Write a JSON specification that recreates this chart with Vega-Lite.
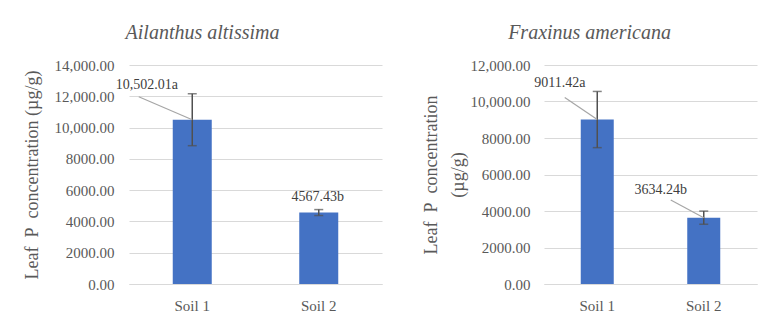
{
  "$schema": "https://vega.github.io/schema/vega-lite/v6.json",
  "background": "white",
  "padding": {"left": 23, "top": 23, "right": 5, "bottom": 5},
  "spacing": 40,
  "config": {
    "font": "Liberation Serif",
    "view": {"stroke": null},
    "style": {"guide-label": {"font": "Liberation Serif"}, "guide-title": {"font": "Liberation Serif"}, "group-title": {"font": "Liberation Serif"}},
    "axis": {
      "labelFont": "Liberation Serif",
      "titleFont": "Liberation Serif",
      "labelColor": "#595959",
      "titleColor": "#595959",
      "labelFontSize": 15,
      "titleFontSize": 18,
      "titleFontWeight": "normal",
      "ticks": false,
      "gridColor": "#D9D9D9",
      "domainColor": "#D9D9D9"
    },
    "title": {"font": "Liberation Serif", "fontStyle": "italic", "fontSize": 20, "fontWeight": "normal", "color": "#595959", "offset": 15, "frame": "bounds", "anchor": "middle"}
  },
  "datasets": {
    "d": [
      {"species": "Ailanthus altissima", "soil": "Soil 1", "value": 10502.01, "err": 1660, "label": "10,502.01a"},
      {"species": "Ailanthus altissima", "soil": "Soil 2", "value": 4567.43, "err": 190, "label": "4567.43b"},
      {"species": "Fraxinus americana", "soil": "Soil 1", "value": 9011.42, "err": 1540, "label": "9011.42a"},
      {"species": "Fraxinus americana", "soil": "Soil 2", "value": 3634.24, "err": 360, "label": "3634.24b"}
    ]
  },
  "hconcat": [
    {
      "width": 253,
      "height": 219,
      "title": {"text": "Ailanthus altissima", "font": "Liberation Serif", "fontStyle": "italic"},
      "data": {"name": "d"},
      "transform": [{"filter": "datum.species === 'Ailanthus altissima'"}],
      "encoding": {
        "x": {"field": "soil", "type": "nominal", "scale": {"paddingInner": 0, "paddingOuter": 0},
              "axis": {"title": null, "labelAngle": 0, "labelPadding": 14, "domain": true, "grid": false, "labelFont": "Liberation Serif"}},
        "y": {"field": "value", "type": "quantitative", "scale": {"domain": [0, 14000]},
              "axis": {"title": "Leaf\u00a0 P\u00a0 concentration (µg/g)", "values": [0, 2000, 4000, 6000, 8000, 10000, 12000, 14000],
                       "labelExpr": "datum.value >= 10000 ? format(datum.value, ',.2f') : format(datum.value, '.2f')",
                       "labelFont": "Liberation Serif", "titleFont": "Liberation Serif",
                       "labelPadding": 15, "titlePadding": 13, "domain": false, "grid": true}}
      },
      "layer": [
        {"mark": {"type": "bar", "size": 39, "color": "#4472C4"}},
        {"mark": {"type": "errorbar", "ticks": {"size": 9}, "color": "#505050", "thickness": 1.5},
         "encoding": {"yError": {"field": "err"}}},
        {"transform": [{"filter": "datum.soil === 'Soil 1'"}],
         "mark": {"type": "rule", "color": "#A6A6A6", "strokeWidth": 1.2, "x2Offset": -53.5, "y2Offset": -23},
         "encoding": {"x2": {"field": "soil"}, "y2": {"field": "value"}}},
        {"transform": [{"filter": "datum.soil === 'Soil 1'"}],
         "mark": {"type": "text", "dx": -45.5, "dy": -35, "fontSize": 14, "font": "Liberation Serif", "color": "#404040", "baseline": "middle"},
         "encoding": {"text": {"field": "label"}}},
        {"transform": [{"filter": "datum.soil === 'Soil 2'"}],
         "mark": {"type": "text", "dx": -1, "dy": -15.5, "fontSize": 14, "font": "Liberation Serif", "color": "#404040", "baseline": "middle"},
         "encoding": {"text": {"field": "label"}}}
      ]
    },
    {
      "width": 213,
      "height": 219,
      "title": {"text": "Fraxinus americana", "font": "Liberation Serif", "fontStyle": "italic"},
      "data": {"name": "d"},
      "transform": [{"filter": "datum.species === 'Fraxinus americana'"}],
      "encoding": {
        "x": {"field": "soil", "type": "nominal", "scale": {"paddingInner": 0, "paddingOuter": 0},
              "axis": {"title": null, "labelAngle": 0, "labelPadding": 14, "domain": true, "grid": false, "labelFont": "Liberation Serif"}},
        "y": {"field": "value", "type": "quantitative", "scale": {"domain": [0, 12000]},
              "axis": {"title": ["Leaf\u00a0 P\u00a0 concentration", "(µg/g)"], "titleLineHeight": 27, "values": [0, 2000, 4000, 6000, 8000, 10000, 12000],
                       "labelExpr": "datum.value >= 10000 ? format(datum.value, ',.2f') : format(datum.value, '.2f')",
                       "labelFont": "Liberation Serif", "titleFont": "Liberation Serif",
                       "labelPadding": 14, "titlePadding": 3, "domain": false, "grid": true}}
      },
      "layer": [
        {"mark": {"type": "bar", "size": 33, "color": "#4472C4"}},
        {"mark": {"type": "errorbar", "ticks": {"size": 9}, "color": "#505050", "thickness": 1.5},
         "encoding": {"yError": {"field": "err"}}},
        {"transform": [{"filter": "datum.soil === 'Soil 1'"}],
         "mark": {"type": "rule", "color": "#A6A6A6", "strokeWidth": 1.2, "x2Offset": -32.5, "y2Offset": -22},
         "encoding": {"x2": {"field": "soil"}, "y2": {"field": "value"}}},
        {"transform": [{"filter": "datum.soil === 'Soil 2'"}],
         "mark": {"type": "rule", "color": "#A6A6A6", "strokeWidth": 1.2, "x2Offset": -33, "y2Offset": -17.6},
         "encoding": {"x2": {"field": "soil"}, "y2": {"field": "value"}}},
        {"transform": [{"filter": "datum.soil === 'Soil 1'"}],
         "mark": {"type": "text", "dx": -37.5, "dy": -36.4, "fontSize": 14, "font": "Liberation Serif", "color": "#404040", "baseline": "middle"},
         "encoding": {"text": {"field": "label"}}},
        {"transform": [{"filter": "datum.soil === 'Soil 2'"}],
         "mark": {"type": "text", "dx": -43, "dy": -27.6, "fontSize": 14, "font": "Liberation Serif", "color": "#404040", "baseline": "middle"},
         "encoding": {"text": {"field": "label"}}}
      ]
    }
  ]
}
